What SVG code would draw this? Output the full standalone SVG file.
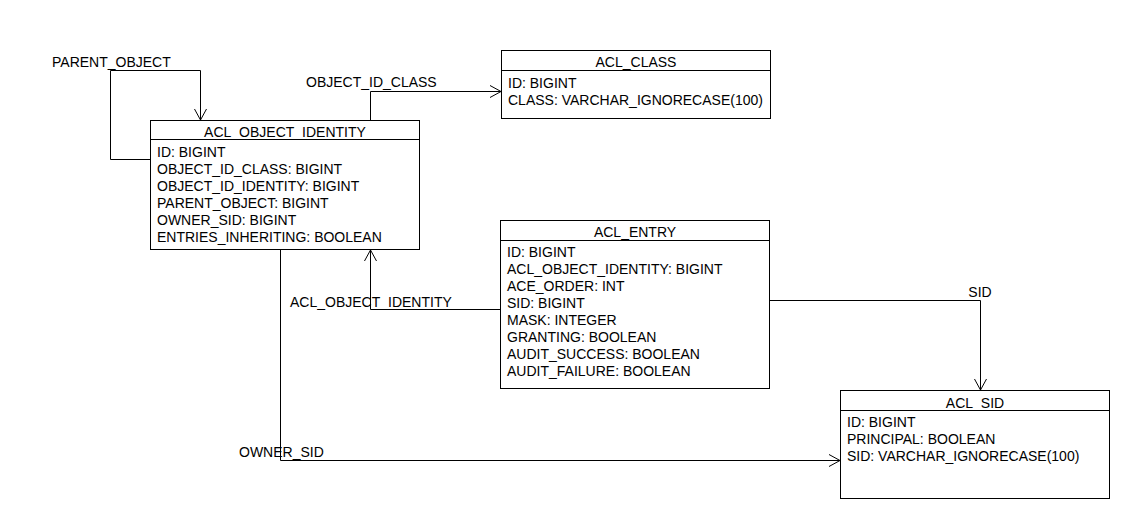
<svg xmlns="http://www.w3.org/2000/svg" width="1130" height="520" viewBox="0 0 1130 520">
<style>
.box{fill:#fff;stroke:#000;stroke-width:1}
.ln{fill:none;stroke:#000;stroke-width:1}
text{font-family:"Liberation Sans",Arial,sans-serif;font-size:14px;fill:#000}
.t{text-anchor:middle}
</style>
<rect width="1130" height="520" fill="#fff"/>
<g id="connectors">
<polyline class="ln" points="150.5,159.5 110.5,159.5 110.5,70.5 200.5,70.5 200.5,120"/>
<polyline class="ln" points="194.5,109 200.5,120 206.5,109"/>
<text x="52" y="67">PARENT_OBJECT</text>
<polyline class="ln" points="370.5,120 370.5,91.5 501,91.5"/>
<polyline class="ln" points="490,85.5 501,91.5 490,97.5"/>
<text x="306" y="87">OBJECT_ID_CLASS</text>
<polyline class="ln" points="500,309.5 370.5,309.5 370.5,250"/>
<polyline class="ln" points="364.5,261 370.5,250 376.5,261"/>
<text x="290" y="307">ACL_OBJECT_IDENTITY</text>
<polyline class="ln" points="769,300.5 980.5,300.5 980.5,390"/>
<polyline class="ln" points="974.5,379 980.5,390 986.5,379"/>
<text x="980" y="297" class="t">SID</text>
<polyline class="ln" points="280.5,249 280.5,460.5 840,460.5"/>
<polyline class="ln" points="829,454.5 840,460.5 829,466.5"/>
<text x="239" y="457">OWNER_SID</text>
</g>
<g id="acl_object_identity">
<rect class="box" x="150.5" y="120.5" width="269" height="129"/>
<line class="ln" x1="150.5" y1="139.5" x2="419.5" y2="139.5"/>
<text x="285" y="137" class="t">ACL_OBJECT_IDENTITY</text>
<text x="157" y="157">ID: BIGINT</text>
<text x="157" y="174">OBJECT_ID_CLASS: BIGINT</text>
<text x="157" y="191">OBJECT_ID_IDENTITY: BIGINT</text>
<text x="157" y="208">PARENT_OBJECT: BIGINT</text>
<text x="157" y="225">OWNER_SID: BIGINT</text>
<text x="157" y="242">ENTRIES_INHERITING: BOOLEAN</text>
</g>
<g id="acl_class">
<rect class="box" x="501.5" y="50.5" width="269" height="68"/>
<line class="ln" x1="501.5" y1="70.5" x2="770.5" y2="70.5"/>
<text x="636" y="67" class="t">ACL_CLASS</text>
<text x="508" y="88">ID: BIGINT</text>
<text x="508" y="105">CLASS: VARCHAR_IGNORECASE(100)</text>
</g>
<g id="acl_entry">
<rect class="box" x="500.5" y="220.5" width="269" height="168"/>
<line class="ln" x1="500.5" y1="240.5" x2="769.5" y2="240.5"/>
<text x="635" y="237" class="t">ACL_ENTRY</text>
<text x="507" y="257">ID: BIGINT</text>
<text x="507" y="274">ACL_OBJECT_IDENTITY: BIGINT</text>
<text x="507" y="291">ACE_ORDER: INT</text>
<text x="507" y="308">SID: BIGINT</text>
<text x="507" y="325">MASK: INTEGER</text>
<text x="507" y="342">GRANTING: BOOLEAN</text>
<text x="507" y="359">AUDIT_SUCCESS: BOOLEAN</text>
<text x="507" y="376">AUDIT_FAILURE: BOOLEAN</text>
</g>
<g id="acl_sid">
<rect class="box" x="840.5" y="390.5" width="269" height="108"/>
<line class="ln" x1="840.5" y1="410.5" x2="1109.5" y2="410.5"/>
<text x="975" y="408" class="t">ACL_SID</text>
<text x="847" y="427">ID: BIGINT</text>
<text x="847" y="444">PRINCIPAL: BOOLEAN</text>
<text x="847" y="461">SID: VARCHAR_IGNORECASE(100)</text>
</g>
</svg>
